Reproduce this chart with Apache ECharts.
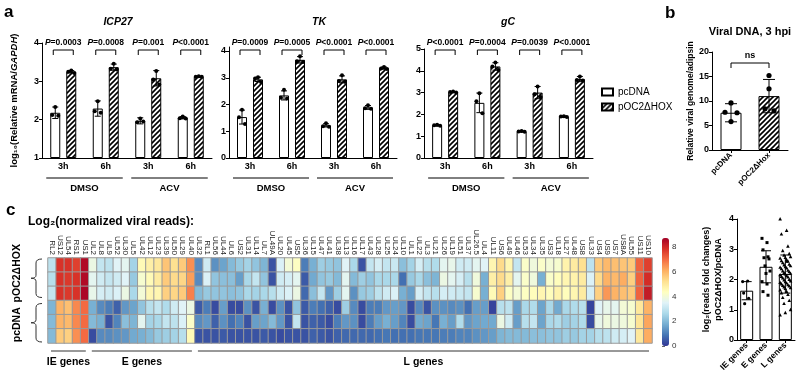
<!DOCTYPE html>
<html>
<head>
<meta charset="utf-8">
<script src="https://cdn.jsdelivr.net/npm/echarts@6.0.0/dist/echarts.min.js"></script>
<style>html,body{margin:0;padding:0;background:#fff;}#chart{width:800px;height:380px;}</style>
</head>
<body>
<div id="chart"></div>
<script>
// ===================== DATA =====================
const timeLabels = ['3h', '6h', '3h', '6h'];
const treatLabels = ['DMSO', 'ACV'];
const legendNames = ['pcDNA', 'pOC2ΔHOX'];

// ICP27
const icp27PcMean = [2.18, 2.29, 1.97, 2.05];
const icp27PcSD = [0.15, 0.20, 0.08, 0.03];
const icp27PcPts = [[2.33, 2.12, 2.10], [2.48, 2.22, 2.18], [2.03, 1.93, 1.95], [2.08, 2.04, 2.03]];
const icp27HoxMean = [3.25, 3.37, 3.08, 3.12];
const icp27HoxSD = [0.03, 0.08, 0.20, 0.01];
const icp27HoxPts = [[3.28, 3.25, 3.22], [3.46, 3.33, 3.31], [3.27, 3.05, 2.92], [3.13, 3.12, 3.12]];
const icp27P = ['=0.0003', '=0.0008', '=0.001', '<0.0001'];

// TK
const tkPcMean = [1.53, 2.34, 1.22, 1.89];
const tkPcSD = [0.26, 0.17, 0.06, 0.07];
const tkPcPts = [[1.80, 1.52, 1.27], [2.55, 2.25, 2.22], [1.30, 1.19, 1.17], [1.97, 1.86, 1.84]];
const tkHoxMean = [2.94, 3.67, 2.94, 3.36];
const tkHoxSD = [0.08, 0.12, 0.13, 0.04];
const tkHoxPts = [[3.02, 2.97, 2.84], [3.80, 3.62, 3.59], [3.09, 2.88, 2.85], [3.40, 3.35, 3.33]];
const tkP = ['=0.0009', '=0.0005', '<0.0001', '<0.0001'];

// gC
const gcPcMean = [1.50, 2.53, 1.22, 1.90];
const gcPcSD = [0.03, 0.45, 0.02, 0.03];
const gcPcPts = [[1.52, 1.50, 1.48], [2.97, 2.60, 2.05], [1.24, 1.22, 1.20], [1.92, 1.90, 1.88]];
const gcHoxMean = [3.03, 4.20, 3.00, 3.62];
const gcHoxSD = [0.02, 0.17, 0.28, 0.12];
const gcHoxPts = [[3.05, 3.03, 3.01], [4.38, 4.20, 4.04], [3.28, 2.93, 2.80], [3.74, 3.58, 3.55]];
const gcP = ['<0.0001', '=0.0004', '=0.0039', '<0.0001'];

// Panel b
const bCats = ['pcDNA', 'pOC2ΔHox'];
const bMean = [7.6, 11.0];
const bSD = [1.85, 3.4];
const bPts = [[9.6, 7.7, 7.6, 5.8], [15.2, 12.5, 8.4, 8.0]];

// Panel c heatmap
const genesIE = ['RL2', 'US12', 'UL54', 'RS1', 'US1'];
const genesE = ['UL2', 'UL8', 'UL9', 'UL52', 'UL30', 'UL5', 'UL42', 'UL12', 'UL23', 'UL39', 'UL50', 'UL29', 'UL40'];
const genesL = ['UL32', 'RL1', 'UL56', 'UL44', 'UL6', 'US2', 'UL31', 'UL14', 'UL7', 'UL49A', 'UL20', 'UL45', 'US5', 'UL36', 'UL15', 'UL47', 'UL41', 'UL38', 'UL13', 'UL16', 'UL17', 'UL43', 'UL28', 'UL25', 'UL24', 'UL10', 'UL1', 'UL22', 'UL3', 'UL21', 'UL26', 'UL19', 'UL51', 'UL37', 'UL26.5', 'UL4', 'UL11', 'US6', 'UL49', 'UL46', 'UL53', 'UL34', 'UL35', 'US3', 'UL18', 'UL27', 'UL48', 'US8', 'UL33', 'US4', 'US9', 'US7', 'US8A', 'UL55', 'US11', 'US10'];
const groupNames = ['IE genes', 'E genes', 'L genes'];
const rowNames = ['pOC2ΔHOX-1', 'pOC2ΔHOX-2', 'pOC2ΔHOX-3', 'pcDNA-1', 'pcDNA-2', 'pcDNA-3'];
const hox1 = [2.9,7.8,7.8,7.6,8.5, 3.8,3.0,2.9,3.5,3.6,2.5,4.5,4.8,5.0,5.7,5.2,5.6,6.5, 1.2,3.2,1.3,1.6,2.0,2.3,2.5,2.2,1.9,0.4, 3.4,4.0,4.3,1.0,1.8,2.4,2.3,2.2,3.5,2.6, 0.4,3.0,3.3,3.0,3.1,2.1,2.5,3.3,2.8,2.7, 3.6,3.7,3.2,3.2,3.6,3.5,4.6,5.3,4.6,3.0, 4.2,3.9,4.2,4.0,4.1,4.7,4.9,5.2,2.9,5.6, 5.9,5.8,5.7,5.6,7.1,7.6];
const hox2 = [2.8,7.8,7.7,7.8,8.5, 3.6,3.2,3.0,3.2,3.5,2.3,4.1,4.5,4.9,5.6,5.3,5.4,6.3, 1.2,3.4,2.2,2.1,2.1,1.5,2.6,3.0,2.2,0.4, 3.2,3.3,3.6,0.5,1.7,2.2,2.3,2.0,3.6,2.0, 2.4,2.2,2.6,2.6,2.6,0.8,2.3,2.6,2.1,1.9, 3.8,3.6,3.3,2.8,3.9,1.8,4.8,5.3,4.8,3.6, 4.2,3.9,1.8,4.2,4.4,4.6,4.7,4.9,3.4,5.3, 6.0,5.9,6.1,5.5,7.1,7.9];
const hox3 = [3.0,7.8,7.7,7.8,8.6, 3.7,3.3,3.2,3.4,3.8,2.6,4.0,4.6,4.6,5.5,5.4,5.6,6.7, 2.0,2.3,2.2,2.2,2.1,2.2,2.6,2.5,2.6,2.8, 3.2,3.4,3.8,0.7,2.1,3.0,1.4,2.4,3.6,1.3, 2.3,2.4,2.9,3.2,3.4,1.8,1.5,3.3,3.0,2.8, 3.3,3.2,3.1,3.0,4.1,1.8,4.5,5.5,4.3,4.0, 4.3,4.4,4.6,4.4,4.7,4.4,4.6,4.9,3.3,5.5, 6.4,6.0,5.8,5.6,7.1,8.2];
const pc1 = [1.9,6.0,5.8,6.6,7.0, 1.8,1.2,1.0,0.6,1.4,1.6,2.2,2.8,3.0,2.7,3.2,3.5,3.8, 0.5,1.0,0.3,1.5,0.3,0.3,1.3,0.4,1.8,0.3, 1.3,0.4,2.2,0.5,1.0,0.8,0.6,0.3,2.4,1.2, 0.3,1.0,1.0,1.4,1.5,1.4,0.3,1.2,0.4,1.3, 1.3,1.2,1.3,0.8,1.5,1.5,0.2,2.8,2.9,1.5, 2.6,2.7,1.6,2.6,1.7,2.6,2.7,2.8,0.2,3.5, 3.7,3.6,4.0,4.1,5.0,6.0];
const pc2 = [2.0,6.0,5.9,6.6,7.0, 2.0,1.8,0.4,1.1,2.1,1.9,3.6,2.5,2.6,3.0,2.9,3.4,4.2, 1.2,1.4,0.6,1.3,0.8,1.1,0.4,1.5,1.6,2.0, 1.4,0.4,3.0,0.4,0.6,0.5,0.3,1.0,1.4,1.3, 0.3,1.0,1.5,1.8,1.5,1.1,0.3,1.7,1.6,0.9, 1.8,1.5,2.7,1.4,1.6,1.7,1.7,3.8,3.2,1.5, 2.8,3.0,1.6,2.6,2.7,2.4,2.5,2.7,0.3,3.7, 3.9,3.8,3.9,4.1,5.1,6.2];
const pc3 = [2.0,5.6,5.5,6.5,7.0, 0.3,1.2,1.2,1.3,1.4,1.7,1.8,2.0,2.3,2.4,2.5,2.8,4.5, 0.4,0.4,0.4,0.5,0.4,0.4,0.4,0.4,0.5,0.4, 0.3,0.4,0.4,0.4,0.6,0.5,0.4,0.6,0.7,0.7, 0.7,0.7,0.8,0.9,0.8,0.8,0.8,0.9,0.9,0.9, 1.0,1.0,1.1,1.1,1.3,1.4,1.5,1.9,2.0,2.0, 2.0,2.1,2.1,2.2,2.2,2.4,2.3,2.5,2.5,2.8, 2.9,3.2,3.3,3.5,5.0,6.1];
const colorbarTicks = [0, 2, 4, 6, 8];

// Panel c: fold changes
const cCats = ['IE genes', 'E genes', 'L genes'];
const cMean = [1.63, 2.42, 2.18];
const cSD = [0.30, 0.53, 0.63];
const cIE = [1.93, 1.95, 1.55, 1.38, 1.20];
const cE = [3.36, 3.22, 2.98, 2.75, 2.72, 2.68, 2.45, 2.28, 2.20, 1.93, 1.85, 1.60, 1.48];
const cL = [4.0, 3.62, 3.5, 3.1, 2.95, 2.85, 2.8, 2.75, 2.72, 2.7, 2.65, 2.62, 2.6, 2.55, 2.5, 2.48, 2.45, 2.42, 2.4, 2.38, 2.35, 2.3, 2.28, 2.25, 2.22, 2.2, 2.18, 2.15, 2.12, 2.1, 2.08, 2.05, 2.0, 1.98, 1.95, 1.92, 1.9, 1.88, 1.85, 1.82, 1.8, 1.78, 1.75, 1.72, 1.7, 1.65, 1.6, 1.55, 1.5, 1.4, 1.3, 1.2, 1.0, 0.9, 0.82, 2.6];

// ===================== STYLE / LAYOUT =====================
const FF = '"Liberation Sans", Arial, Helvetica, sans-serif';
const RDYLBU = ['#313695','#4575b4','#74add1','#abd9e9','#e0f3f8','#ffffbf','#fee090','#fdae61','#f46d43','#d73027','#a50026'];
const BAR_W = 10, BAR_GAP = 6, OFF = (BAR_W + BAR_GAP) / 2;
const DOT3 = [0, -3, 3];
const BR_Y = 50;

function makeHatch() {
  const s = 5, c = document.createElement('canvas');
  c.width = s; c.height = s;
  const g = c.getContext('2d');
  g.fillStyle = '#fff'; g.fillRect(0, 0, s, s);
  g.strokeStyle = '#000'; g.lineWidth = 1.6;
  g.beginPath();
  g.moveTo(-1, s + 1); g.lineTo(s + 1, -1);
  g.moveTo(-1, 1); g.lineTo(1, -1);
  g.moveTo(s - 1, s + 1); g.lineTo(s + 1, s - 1);
  g.stroke();
  return c;
}
const HATCH = { image: makeHatch(), repeat: 'repeat' };
const WHITE_BAR = { color: '#fff', borderColor: '#000', borderWidth: 1 };
const HATCH_BAR = { color: HATCH, borderColor: '#000', borderWidth: 1 };

const genesA = [
  { min: 1, max: 4, pc: icp27PcMean, pcSD: icp27PcSD, pcPts: icp27PcPts, hox: icp27HoxMean, hoxSD: icp27HoxSD, hoxPts: icp27HoxPts, p: icp27P },
  { min: 0, max: 4.15, pc: tkPcMean, pcSD: tkPcSD, pcPts: tkPcPts, hox: tkHoxMean, hoxSD: tkHoxSD, hoxPts: tkHoxPts, p: tkP },
  { min: 0, max: 5, pc: gcPcMean, pcSD: gcPcSD, pcPts: gcPcPts, hox: gcHoxMean, hoxSD: gcHoxSD, hoxPts: gcHoxPts, p: gcP }
];

const grids = [
  { left: 42, top: 43, width: 170, height: 115 },
  { left: 229, top: 47, width: 168, height: 111 },
  { left: 424, top: 49, width: 169, height: 109 },
  { left: 712, top: 52, width: 76, height: 98 },
  { left: 737, top: 219, width: 58, height: 121 },
  { left: 48, top: 258, width: 604, height: 85 },
  { left: 662, top: 238, width: 7, height: 108 }
];

const axLine = { show: true, lineStyle: { color: '#000', width: 1 } };
const axTick = { show: true, length: 3, lineStyle: { color: '#000', width: 1 } };
function lbl(o) { return Object.assign({ color: '#000', fontSize: 9, fontWeight: 'bold', fontFamily: FF }, o || {}); }
function txt(o) { return Object.assign({ fill: '#000', fontFamily: FF, fontSize: 9, fontWeight: 'bold', align: 'center', verticalAlign: 'middle' }, o); }
function ln(x1, y1, x2, y2, c, w) { return { type: 'line', shape: { x1, y1, x2, y2 }, style: { stroke: c || '#000', lineWidth: w || 1 } }; }

const xAxes = [], yAxes = [], series = [];

// ---- panel a ----
genesA.forEach((g, i) => {
  xAxes.push({ gridIndex: i, type: 'category', data: timeLabels, axisLine: axLine, axisTick: { show: false }, axisLabel: lbl({ margin: 4 }) });
  const ya = { gridIndex: i, type: 'value', min: g.min, max: g.max, startValue: g.min, axisLine: axLine, axisTick: Object.assign({}, axTick), axisLabel: lbl({ margin: 3 }), splitLine: { show: false } };
  if (i === 1) { ya.axisLabel.customValues = [0, 1, 2, 3, 4]; ya.axisTick.customValues = [0, 1, 2, 3, 4]; }
  else ya.interval = 1;
  if (i === 0) {
    ya.name = 'log₁₀(Relative mRNA/{i|GAPDH})';
    ya.nameLocation = 'middle'; ya.nameGap = 23;
    ya.nameTextStyle = { fontSize: 9.5, fontWeight: 'bold', color: '#000', fontFamily: FF, rich: { i: { fontSize: 9.5, fontWeight: 'bold', fontStyle: 'italic', color: '#000', fontFamily: FF } } };
  }
  yAxes.push(ya);
  series.push({ type: 'bar', name: legendNames[0], xAxisIndex: i, yAxisIndex: i, data: g.pc, barWidth: BAR_W, barGap: (BAR_GAP / BAR_W * 100) + '%', itemStyle: WHITE_BAR, clip: true, silent: true });
  series.push({ type: 'bar', name: legendNames[1], xAxisIndex: i, yAxisIndex: i, data: g.hox, barWidth: BAR_W, barGap: (BAR_GAP / BAR_W * 100) + '%', itemStyle: HATCH_BAR, clip: true, silent: true });
  series.push({
    type: 'custom', name: 'annot' + i, xAxisIndex: i, yAxisIndex: i, silent: true, z: 5,
    data: timeLabels.map((_, k) => [k, g.min]),
    renderItem: function (params, api) {
      const k = api.value(0);
      const c = api.coord([k, g.min])[0];
      const kids = [];
      [[g.pc, g.pcSD, g.pcPts, -OFF], [g.hox, g.hoxSD, g.hoxPts, OFF]].forEach(([m, sd, pts, o]) => {
        const x = c + o;
        const yT = api.coord([k, m[k] + sd[k]])[1], yB = api.coord([k, m[k] - sd[k]])[1];
        kids.push(ln(x, yT, x, yB), ln(x - 3, yT, x + 3, yT), ln(x - 3, yB, x + 3, yB));
        pts[k].forEach((v, j) => {
          kids.push({ type: 'circle', shape: { cx: x + DOT3[j], cy: api.coord([k, v])[1], r: 2 }, style: { fill: '#000' } });
        });
      });
      const bx1 = c - OFF - 2, bx2 = c + OFF + 2;
      kids.push({ type: 'polyline', shape: { points: [[bx1, BR_Y + 5], [bx1, BR_Y], [bx2, BR_Y], [bx2, BR_Y + 5]] }, style: { stroke: '#000', fill: null, lineWidth: 1 } });
      kids.push({ type: 'text', x: c, y: BR_Y - 7, style: txt({ text: '{i|P}' + g.p[k], fontSize: 8.5, rich: { i: { fontStyle: 'italic', fontWeight: 'bold', fontSize: 8.5, fontFamily: FF, fill: '#000' } } }) });
      if (k % 2 === 0) {
        const c2 = api.coord([k + 1, g.min])[0];
        const yb = params.coordSys.y + params.coordSys.height;
        kids.push(ln(c - 17, yb + 20, c2 + 17, yb + 20));
        kids.push({ type: 'text', x: (c + c2) / 2, y: yb + 30, style: txt({ text: treatLabels[k / 2], fontSize: 9.5 }) });
      }
      return { type: 'group', children: kids };
    }
  });
});

// ---- panel b ----
xAxes.push({ gridIndex: 3, type: 'category', data: bCats, axisLine: axLine, axisTick: Object.assign({ alignWithLabel: true }, axTick), axisLabel: lbl({ rotate: 45, fontSize: 8, margin: 4 }) });
yAxes.push({ gridIndex: 3, type: 'value', min: 0, max: 20, interval: 5, axisLine: axLine, axisTick: axTick, axisLabel: lbl({ margin: 3 }), splitLine: { show: false },
  name: 'Relative viral genome/adipsin', nameLocation: 'middle', nameGap: 16, nameTextStyle: { fontSize: 8.5, fontWeight: 'bold', color: '#000', fontFamily: FF } });
series.push({ type: 'bar', name: 'viral', xAxisIndex: 3, yAxisIndex: 3, barWidth: 21, silent: true,
  data: bMean.map((v, i) => ({ value: v, itemStyle: i === 0 ? WHITE_BAR : HATCH_BAR })) });
const B_OFFS = [[0, -6, 6, 0], [0, 0, -4, 5]];
series.push({
  type: 'custom', name: 'annotB', xAxisIndex: 3, yAxisIndex: 3, silent: true, z: 5,
  data: bCats.map((_, k) => [k, 0]),
  renderItem: function (params, api) {
    const k = api.value(0), x = api.coord([k, 0])[0];
    const yT = api.coord([k, bMean[k] + bSD[k]])[1], yB = api.coord([k, bMean[k] - bSD[k]])[1];
    const kids = [ln(x, yT, x, yB), ln(x - 6, yT, x + 6, yT), ln(x - 6, yB, x + 6, yB)];
    bPts[k].forEach((v, j) => kids.push({ type: 'circle', shape: { cx: x + B_OFFS[k][j], cy: api.coord([k, v])[1], r: 2.6 }, style: { fill: '#000' } }));
    if (k === 0) {
      const x2 = api.coord([1, 0])[0], y = params.coordSys.y + 11;
      kids.push({ type: 'polyline', shape: { points: [[x, y + 5], [x, y], [x2, y], [x2, y + 5]] }, style: { stroke: '#000', fill: null, lineWidth: 1 } });
      kids.push({ type: 'text', x: (x + x2) / 2, y: y - 7, style: txt({ text: 'ns', fontSize: 9 }) });
    }
    return { type: 'group', children: kids };
  }
});

// ---- panel c right ----
xAxes.push({ gridIndex: 4, type: 'category', data: cCats, axisLine: axLine, axisTick: Object.assign({ alignWithLabel: true }, axTick), axisLabel: lbl({ rotate: 45, fontSize: 8.5, margin: 4 }) });
yAxes.push({ gridIndex: 4, type: 'value', min: 0, max: 4, interval: 1, axisLine: axLine, axisTick: axTick, axisLabel: lbl({ margin: 3 }), splitLine: { show: false },
  name: 'log₂(reads fold changes)\npOC2ΔHOX/pcDNA', nameLocation: 'middle', nameGap: 12, nameTextStyle: { fontSize: 9, lineHeight: 12, fontWeight: 'bold', color: '#000', fontFamily: FF } });
series.push({ type: 'bar', name: 'fold', xAxisIndex: 4, yAxisIndex: 4, barWidth: 13, silent: true, data: cMean, itemStyle: WHITE_BAR });
const cPts = [cIE, cE, cL];
series.push({
  type: 'custom', name: 'annotC', xAxisIndex: 4, yAxisIndex: 4, silent: true, z: 5,
  data: cCats.map((_, k) => [k, 0]),
  renderItem: function (params, api) {
    const k = api.value(0), x = api.coord([k, 0])[0];
    const yT = api.coord([k, cMean[k] + cSD[k]])[1], yB = api.coord([k, cMean[k] - cSD[k]])[1];
    const kids = [];
    const spread = k === 2 ? 1.3 : 1.0;
    cPts[k].forEach((v, j) => {
      const px = x + (((j * 5) % 9) - 4) * spread, py = api.coord([k, v])[1];
      if (k === 0) kids.push({ type: 'circle', shape: { cx: px, cy: py, r: 1.6 }, style: { fill: '#000' } });
      else if (k === 1) kids.push({ type: 'rect', shape: { x: px - 1.5, y: py - 1.5, width: 3, height: 3 }, style: { fill: '#000' } });
      else kids.push({ type: 'polygon', shape: { points: [[px, py - 2], [px - 1.8, py + 1.4], [px + 1.8, py + 1.4]] }, style: { fill: '#000' } });
    });
    kids.push(ln(x, yT, x, yB), ln(x - 5, yT, x + 5, yT), ln(x - 5, yB, x + 5, yB));
    return { type: 'group', children: kids };
  }
});

// ---- heatmap ----
const genes = genesIE.concat(genesE, genesL);
const rows = [hox1, hox2, hox3, pc1, pc2, pc3];
const heatData = [];
rows.forEach((r, ri) => r.forEach((v, ci) => heatData.push([ci, ri, v])));
xAxes.push({ gridIndex: 5, type: 'category', data: genes, position: 'top', axisLine: { show: false }, axisTick: { show: false },
  axisLabel: { rotate: 90, interval: 0, fontSize: 8, margin: 3, color: '#222', fontFamily: FF }, splitLine: { show: false } });
yAxes.push({ gridIndex: 5, type: 'category', data: rowNames, inverse: true, axisLine: { show: false }, axisTick: { show: false }, axisLabel: { show: false }, splitLine: { show: false } });
const heatIndex = series.length;
series.push({ type: 'heatmap', name: 'heat', xAxisIndex: 5, yAxisIndex: 5, data: heatData, silent: true,
  itemStyle: { borderColor: '#9a9a9a', borderWidth: 1 }, emphasis: { disabled: true } });
const groupRanges = [];
let acc = 0;
[genesIE, genesE, genesL].forEach((g, i) => { groupRanges.push([acc, 0, acc + g.length - 1, i]); acc += g.length; });
series.push({
  type: 'custom', name: 'heatAnnot', xAxisIndex: 5, yAxisIndex: 5, silent: true, z: 5,
  data: groupRanges,
  renderItem: function (params, api) {
    const cs = params.coordSys;
    const s = api.value(0), e = api.value(2), gi = api.value(3);
    const bw = cs.width / genes.length;
    const x1 = api.coord([s, 0])[0] - bw / 2 + 3, x2 = api.coord([e, 0])[0] + bw / 2 - 3;
    const yl = cs.y + cs.height + 8;
    const kids = [ln(x1, yl, x2, yl, '#333', 1), { type: 'text', x: (x1 + x2) / 2, y: yl + 11, style: txt({ text: groupNames[gi], fontSize: 10.5 }) }];
    if (params.dataIndex === 0) {
      const half = cs.height / 2;
      const brace = (y0, y1) => {
        const xr = cs.x - 6, xv = xr - 6, xn = xv - 5, ym = (y0 + y1) / 2;
        return { type: 'path', shape: { pathData: `M${xr} ${y0} Q${xv} ${y0} ${xv} ${y0 + 4} L${xv} ${ym - 3} Q${xv} ${ym} ${xn} ${ym} Q${xv} ${ym} ${xv} ${ym + 3} L${xv} ${y1 - 4} Q${xv} ${y1} ${xr} ${y1}` }, style: { stroke: '#333', fill: null, lineWidth: 1 } };
      };
      kids.push(brace(cs.y + 1, cs.y + half - 3), brace(cs.y + half + 3, cs.y + cs.height - 1));
      kids.push({ type: 'text', x: cs.x - 31, y: cs.y + half / 2 - 6, rotation: Math.PI / 2, style: txt({ text: 'pOC2ΔHOX', fontSize: 10.5 }) });
      kids.push({ type: 'text', x: cs.x - 31, y: cs.y + half * 1.5 + 3, rotation: Math.PI / 2, style: txt({ text: 'pcDNA', fontSize: 10.5 }) });
    }
    return { type: 'group', children: kids };
  }
});

// ---- colorbar labels axis ----
xAxes.push({ gridIndex: 6, type: 'value', show: false, min: 0, max: 1 });
yAxes.push({ gridIndex: 6, type: 'value', position: 'right', min: 0, max: 8.7, axisLine: { show: false },
  axisTick: { show: true, length: 3, customValues: colorbarTicks, lineStyle: { color: '#666' } },
  axisLabel: { customValues: colorbarTicks, fontSize: 8, color: '#333', margin: 3, fontFamily: FF }, splitLine: { show: false } });

const option = {
  animation: false,
  backgroundColor: '#fff',
  textStyle: { fontFamily: FF },
  grid: grids.map(g => Object.assign({ containLabel: false, outerBoundsMode: 'none' }, g)),
  legend: { data: legendNames, orient: 'vertical', left: 596, top: 82, icon: 'rect', itemWidth: 11, itemHeight: 7, itemGap: 5,
    textStyle: { fontSize: 10, color: '#000', fontFamily: FF }, selectedMode: false },
  xAxis: xAxes,
  yAxis: yAxes,
  visualMap: { type: 'continuous', min: 0, max: 8.7, seriesIndex: heatIndex, calculable: false, orient: 'vertical',
    left: 662, top: 238, itemWidth: 7, itemHeight: 108, padding: 0, hoverLink: false, inRange: { color: RDYLBU } },
  series: series,
  graphic: [
    { type: 'text', x: 4, y: 12, style: txt({ text: 'a', fontSize: 17, align: 'left' }) },
    { type: 'text', x: 118, y: 22, style: txt({ text: 'ICP27', fontSize: 10.5, fontStyle: 'italic' }) },
    { type: 'text', x: 319, y: 22, style: txt({ text: 'TK', fontSize: 10.5, fontStyle: 'italic' }) },
    { type: 'text', x: 508, y: 22, style: txt({ text: 'gC', fontSize: 10.5, fontStyle: 'italic' }) },
    { type: 'text', x: 665, y: 13, style: txt({ text: 'b', fontSize: 17, align: 'left' }) },
    { type: 'text', x: 750, y: 32, style: txt({ text: 'Viral DNA, 3 hpi', fontSize: 11 }) },
    { type: 'text', x: 6, y: 210, style: txt({ text: 'c', fontSize: 17, align: 'left' }) },
    { type: 'text', x: 28, y: 222, style: txt({ text: 'Log₂(normalized viral reads):', fontSize: 12, align: 'left' }) }
  ]
};

const chart = echarts.init(document.getElementById('chart'), null, { renderer: 'canvas', width: 800, height: 380 });
chart.setOption(option);
</script>
</body>
</html>
